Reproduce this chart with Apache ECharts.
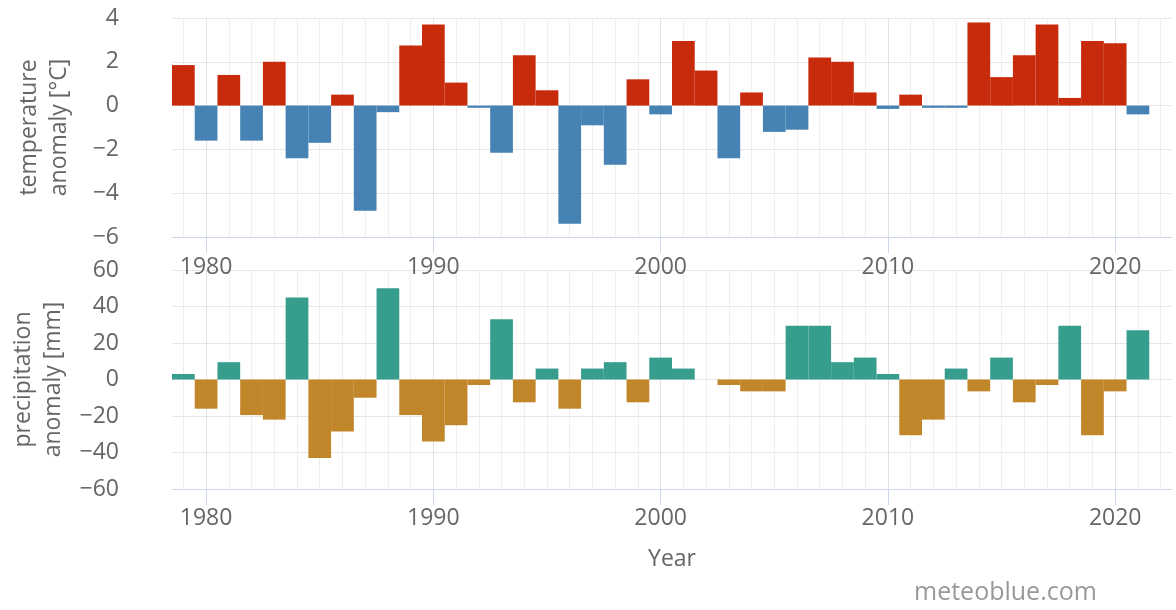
<!DOCTYPE html>
<html>
<head>
<meta charset="utf-8">
<script src="https://cdn.jsdelivr.net/npm/echarts@6/dist/echarts.min.js"></script>
<style>
html,body{margin:0;padding:0;background:#fff;}
#chart{width:1176px;height:610px;}
</style>
</head>
<body>
<div id="chart"></div>
<script>
// Year categories (axis extends half a year past 2021)
const years = [1979,1980,1981,1982,1983,1984,1985,1986,1987,1988,1989,1990,1991,1992,1993,1994,1995,1996,1997,1998,1999,2000,2001,2002,2003,2004,2005,2006,2007,2008,2009,2010,2011,2012,2013,2014,2015,2016,2017,2018,2019,2020,2021,2022];
// Temperature anomaly [°C], 1979–2021
const tempAnomaly = [1.85,-1.6,1.4,-1.6,2.0,-2.4,-1.7,0.5,-4.8,-0.3,2.75,3.7,1.05,-0.1,-2.15,2.3,0.7,-5.4,-0.9,-2.7,1.2,-0.4,2.95,1.6,-2.4,0.6,-1.2,-1.1,2.2,2.0,0.6,-0.15,0.5,-0.1,-0.1,3.8,1.3,2.3,3.7,0.35,2.95,2.85,-0.4];
// Precipitation anomaly [mm], 1979–2021
const precipAnomaly = [3,-16,9.5,-19.5,-22,45,-43,-28.5,-10,50,-19.5,-34,-25,-3,33,-12.5,6,-16,6,9.5,-12.5,12,6,0,-3,-6.5,-6.5,29.5,29.5,9.5,12,3,-30.5,-22,6,-6.5,12,-12.5,-3,29.5,-30.5,-6.5,27];
const tempTicks = {min:-6, max:4, interval:2};
const precipTicks = {min:-60, max:60, interval:20};

const FONT = 'Open Sans';
const labelColor = '#666666';
const minus = v => String(v).replace('-', '\u2212');

const splitColors = ['#eeeeee','#dde2ea','#eeeeee','#eeeeee','#eeeeee','#eeeeee','#eeeeee','#eeeeee','#eeeeee','#eeeeee'];

function xAxisFor(gridIndex, margin) {
  return {
    type: 'category', gridIndex: gridIndex, data: years,
    boundaryGap: true,
    axisLine: {show: true, onZero: false, lineStyle: {color: '#ccd6eb', width: 1}},
    axisTick: {show: true, alignWithLabel: true, length: 16, interval: (i, v) => Number(v) % 10 === 0, lineStyle: {color: '#ccd6eb'}},
    axisLabel: {interval: (i, v) => Number(v) % 10 === 0, color: labelColor, fontFamily: FONT, fontSize: 23, margin: margin},
    splitLine: {show: true, interval: 0, alignWithLabel: true, lineStyle: {color: splitColors, width: 1}}
  };
}
function yAxisFor(gridIndex, ticks, name) {
  return {
    type: 'value', gridIndex: gridIndex, min: ticks.min, max: ticks.max, interval: ticks.interval,
    name: name, nameLocation: 'middle', nameGap: 98,
    nameTextStyle: {color: labelColor, fontFamily: FONT, fontSize: 23, lineHeight: 30},
    axisLine: {show: false}, axisTick: {show: false},
    axisLabel: {color: labelColor, fontFamily: FONT, fontSize: 23, margin: 53, formatter: minus},
    splitLine: {show: true, lineStyle: {color: '#e6e6e6', width: 1}}
  };
}

const chart = echarts.init(document.getElementById('chart'), null, {renderer: 'canvas'});
const option = {
  backgroundColor: '#ffffff',
  animation: false,
  grid: [
    {left: 172, right: 4, top: 18, height: 219, containLabel: false},
    {left: 172, right: 4, top: 270, height: 219, containLabel: false}
  ],
  xAxis: [
    xAxisFor(0, 19),
    Object.assign(xAxisFor(1, 18), {name: 'Year', nameLocation: 'middle', nameGap: 59,
      nameTextStyle: {color: labelColor, fontFamily: FONT, fontSize: 23}})
  ],
  yAxis: [
    yAxisFor(0, tempTicks, 'temperature\nanomaly [°C]'),
    yAxisFor(1, precipTicks, 'precipitation\nanomaly [mm]')
  ],
  series: [
    {type: 'bar', xAxisIndex: 0, yAxisIndex: 0, data: tempAnomaly, barCategoryGap: '0%',
     itemStyle: {color: p => p.value >= 0 ? '#c82a0c' : '#4682b4'}},
    {type: 'bar', xAxisIndex: 1, yAxisIndex: 1, data: precipAnomaly, barCategoryGap: '0%',
     itemStyle: {color: p => p.value >= 0 ? '#379e8d' : '#c2862a'}}
  ],
  graphic: [
    {type: 'text', left: 914, top: 580, style: {text: 'meteoblue.com', fill: '#999999', font: '25px "Open Sans"', letterSpacing: 2}}
  ]
};
chart.setOption(option);
</script>
</body>
</html>
